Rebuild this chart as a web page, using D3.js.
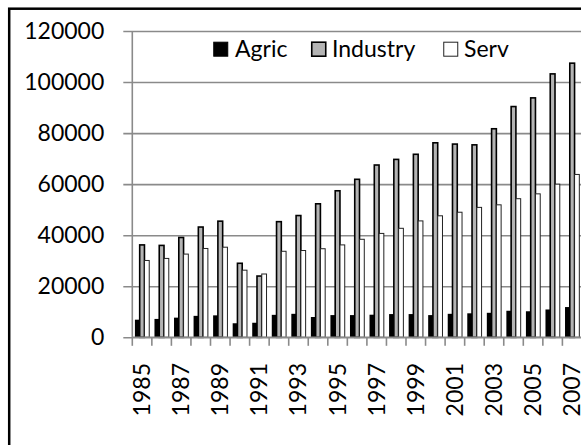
<!DOCTYPE html>
<html>
<head>
<meta charset="utf-8">
<script src="https://cdn.jsdelivr.net/npm/d3@7"></script>
<style>
  html, body { margin: 0; padding: 0; background: #fff; }
  svg { display: block; }
  text { font-family: Lato, "Liberation Sans", Arial, sans-serif; fill: #000; }
</style>
</head>
<body>
<svg id="chart" width="581" height="445"></svg>
<script>
const years = ["1985","1986","1987","1988","1989","1990","1991","1992","1993","1994","1995","1996",
               "1997","1998","1999","2000","2001","2002","2003","2004","2005","2006","2007"];
const seriesNames = ["Agric", "Industry", "Serv"];
const agric = [6900, 7200, 7700, 8400, 8600, 5500, 5700, 8800, 9200, 7950, 8700, 8700,
               8850, 9100, 9100, 8700, 9200, 9400, 9600, 10400, 10200, 10900, 11850];
const industry = [36200, 36000, 39100, 43200, 45500, 29000, 24000, 45300, 47700, 52300, 57400, 61900,
                  67500, 69700, 71700, 76200, 75700, 75400, 81700, 90400, 93800, 103200, 107400];
const serv = [30100, 30900, 32600, 34800, 35300, 26300, 24800, 33700, 34000, 34700, 36200, 38400,
              40700, 42700, 45600, 47600, 49000, 50900, 51900, 54300, 56200, 60000, 63800];
const yTicks = [0, 20000, 40000, 60000, 80000, 100000, 120000];

const seriesValues = { Agric: agric, Industry: industry, Serv: serv };
const seriesStyle = {
  Agric:    { fill: "#000000", stroke: "none", sw: 0 },
  Industry: { fill: "#b4b4b4", stroke: "#000000", sw: 1.6 },
  Serv:     { fill: "#ffffff", stroke: "#222222", sw: 1 }
};

const svg = d3.select("#chart");
const left = 132.3, bandW = 19.55;
const x = d3.scaleBand().domain(years).range([left, left + bandW * years.length]).padding(0);
const x1 = d3.scaleBand().domain(seriesNames).range([0, x.bandwidth()]).paddingInner(0).paddingOuter(0.55);
const y = d3.scaleLinear().domain([0, 120000]).range([337.3, 31]);
const gridColor = "#8a8a8a";

// outer border
svg.append("rect").attr("x", 9.2).attr("y", 8.7).attr("width", 620).attr("height", 470)
  .attr("fill", "none").attr("stroke", "#000").attr("stroke-width", 2.5);

// gridlines + y axis
const yAxis = d3.axisLeft(y).tickValues(yTicks).tickSize(-(600 - left)).tickPadding(28)
  .tickFormat(d3.format("d"));
const gy = svg.append("g").attr("transform", `translate(${left},0)`).call(yAxis);
gy.select(".domain").remove();
gy.selectAll(".tick line").attr("stroke", gridColor).attr("stroke-width", 1.6)
  .attr("x1", -9);
gy.selectAll(".tick text").attr("font-size", "23px").style("font-family", "Lato, 'Liberation Sans', Arial, sans-serif");

// y axis line
svg.append("line").attr("x1", left).attr("x2", left).attr("y1", y(120000)).attr("y2", y(0))
  .attr("stroke", gridColor).attr("stroke-width", 1.6);

// bars
const groups = svg.append("g").selectAll("g").data(years).join("g")
  .attr("transform", d => `translate(${x(d)},0)`);
seriesNames.forEach(name => {
  const st = seriesStyle[name];
  groups.append("rect")
    .attr("x", (d) => x1(name))
    .attr("width", x1.bandwidth())
    .attr("y", (d, i) => y(seriesValues[name][i]))
    .attr("height", (d, i) => y(0) - y(seriesValues[name][i]))
    .attr("fill", st.fill)
    .attr("stroke", st.stroke)
    .attr("stroke-width", st.sw);
});

// x axis
svg.append("line").attr("x1", left).attr("x2", 600).attr("y1", y(0)).attr("y2", y(0))
  .attr("stroke", gridColor).attr("stroke-width", 1.6);
const boundaries = years.map(d => x(d));
svg.append("g").selectAll("line").data(boundaries).join("line")
  .attr("x1", d => d).attr("x2", d => d).attr("y1", y(0)).attr("y2", y(0) + 8.5)
  .attr("stroke", gridColor).attr("stroke-width", 1.6);

svg.append("g").selectAll("text").data(years.filter((d, i) => i % 2 === 0)).join("text")
  .attr("transform", d => `translate(${x(d) + x.bandwidth() / 2 + 8},363) rotate(-90)`)
  .attr("text-anchor", "end")
  .attr("font-size", "23px")
  .text(d => d);

// legend
const legendItems = [
  { name: "Agric", sx: 213, tx: 235 },
  { name: "Industry", sx: 311, tx: 332 },
  { name: "Serv", sx: 443, tx: 464 }
];
const lg = svg.append("g");
legendItems.forEach(it => {
  const st = seriesStyle[it.name];
  lg.append("rect").attr("x", it.sx + 0.75).attr("y", 42.2).attr("width", 14).attr("height", 14)
    .attr("fill", st.fill)
    .attr("stroke", it.name === "Agric" ? "#000" : st.stroke)
    .attr("stroke-width", it.name === "Agric" ? 1 : (it.name === "Industry" ? 1.6 : 1));
  lg.append("text").attr("x", it.tx).attr("y", 56.5).attr("font-size", "23px").text(it.name);
});
</script>
</body>
</html>
